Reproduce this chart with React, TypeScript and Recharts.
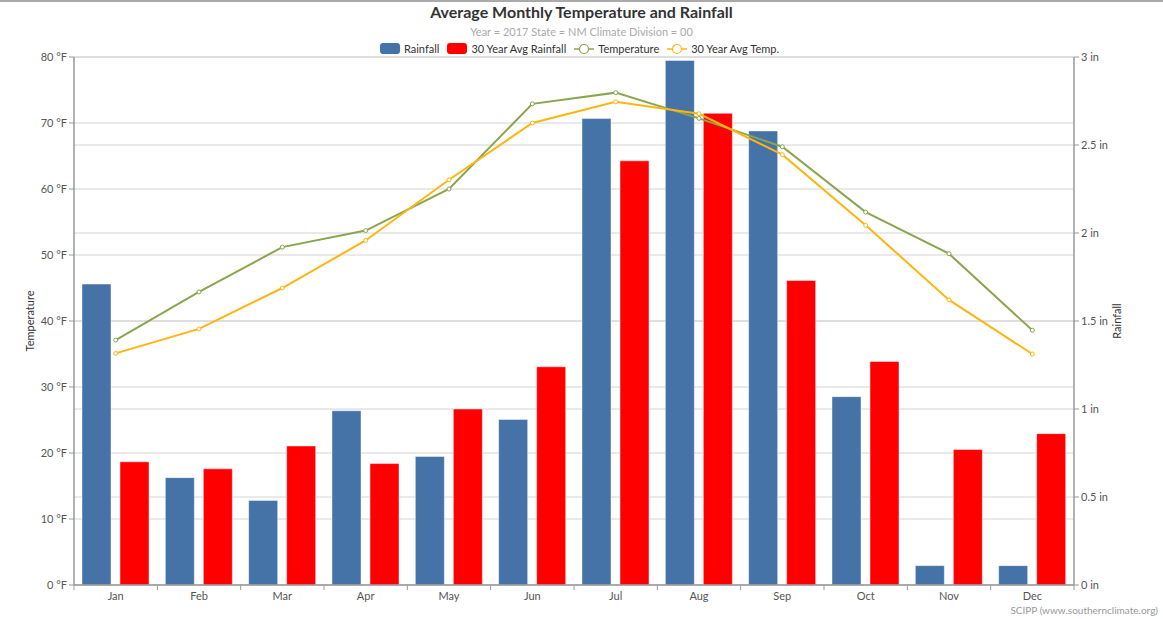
import React from "react";
import { ComposedChart, Bar, Line, XAxis, YAxis, CartesianGrid } from "recharts";

const months = ["Jan", "Feb", "Mar", "Apr", "May", "Jun", "Jul", "Aug", "Sep", "Oct", "Nov", "Dec"];
const rainfall = [1.71, 0.61, 0.48, 0.99, 0.73, 0.94, 2.65, 2.98, 2.58, 1.07, 0.11, 0.11];
const avgRainfall = [0.7, 0.66, 0.79, 0.69, 1.0, 1.24, 2.41, 2.68, 1.73, 1.27, 0.77, 0.86];
const temperature = [37.1, 44.4, 51.2, 53.7, 60.0, 72.9, 74.6, 70.7, 66.4, 56.5, 50.2, 38.6];
const avgTemperature = [35.1, 38.8, 45.0, 52.2, 61.4, 70.0, 73.2, 71.4, 65.2, 54.5, 43.2, 35.0];
const tempTicks = [0, 10, 20, 30, 40, 50, 60, 70, 80];
const rainTicks = [0, 0.5, 1, 1.5, 2, 2.5, 3];

const data = months.map((m, i) => ({
  month: m,
  rainfall: rainfall[i],
  avgRainfall: avgRainfall[i],
  temperature: temperature[i],
  avgTemperature: avgTemperature[i],
}));

const FONT = "Lato, 'Noto Sans', sans-serif";
const AXIS = "#999";
const LABEL = "#555";

const XTick = (props: any) => {
  const { x, y, payload, index } = props;
  const half = payload && payload.offset ? payload.offset : 41.33;
  return (
    <g>
      <line x1={x - half} y1={y - 8} x2={x - half} y2={y - 3} stroke={AXIS} />
      {index === months.length - 1 && (
        <line x1={x + half} y1={y - 8} x2={x + half} y2={y - 3} stroke={AXIS} />
      )}
      <text x={x} y={y + 7} textAnchor="middle" fill={LABEL} fontSize={11} fontFamily={FONT}>
        {payload.value}
      </text>
    </g>
  );
};

const LegendItem = ({ kind, color, label }: { kind: "bar" | "line"; color: string; label: string }) => (
  <div style={{ display: "flex", alignItems: "center", marginRight: 8 }}>
    {kind === "bar" ? (
      <div style={{ width: 20, height: 11, background: color, borderRadius: 3, marginRight: 4 }} />
    ) : (
      <svg width={20} height={12} style={{ marginRight: 4 }}>
        <line x1={0} y1={6} x2={20} y2={6} stroke={color} strokeWidth={1.5} />
        <circle cx={10} cy={6} r={4.5} fill="#fff" stroke={color} strokeWidth={1.2} />
      </svg>
    )}
    <span style={{ fontSize: 11, color: "#333" }}>{label}</span>
  </div>
);

export default function App() {
  return (
    <div
      style={{
        position: "absolute",
        left: 0,
        top: 0,
        width: 1163,
        height: 619,
        background: "#fff",
        fontFamily: FONT,
        overflow: "hidden",
      }}
    >
      <div style={{ position: "absolute", left: 0, top: 0, width: 1163, height: 2, background: "#aaa" }} />
      <div
        style={{
          position: "absolute",
          top: 2,
          left: 0,
          width: 1163,
          textAlign: "center",
          fontSize: 16,
          fontWeight: "bold",
          color: "#333",
        }}
      >
        Average Monthly Temperature and Rainfall
      </div>
      <div
        style={{
          position: "absolute",
          top: 25,
          left: 0,
          width: 1163,
          textAlign: "center",
          fontSize: 11,
          color: "#aaa",
        }}
      >
        Year = 2017 State = NM Climate Division = 00
      </div>
      <div
        style={{
          position: "absolute",
          top: 42,
          left: 0,
          width: 1163,
          display: "flex",
          justifyContent: "center",
          paddingLeft: 4,
          boxSizing: "border-box",
        }}
      >
        <LegendItem kind="bar" color="#4572A7" label="Rainfall" />
        <LegendItem kind="bar" color="#FF0000" label="30 Year Avg Rainfall" />
        <LegendItem kind="line" color="#89A54E" label="Temperature" />
        <LegendItem kind="line" color="#FFB50F" label="30 Year Avg Temp." />
      </div>
      <div style={{ position: "absolute", left: 0, top: 0 }}>
        <ComposedChart
          width={1163}
          height={619}
          data={data}
          margin={{ top: 57, right: 0, bottom: 0, left: 0 }}
          barCategoryGap={8}
          barGap={9}
        >
          <CartesianGrid yAxisId="left" vertical={false} stroke="#d4d4d4" />
          <CartesianGrid yAxisId="right" vertical={false} stroke="#d4d4d4" />
          <XAxis
            dataKey="month"
            height={34}
            axisLine={{ stroke: AXIS, strokeWidth: 1.5 }}
            tickLine={false}
            tick={<XTick />}
            interval={0}
          />
          <YAxis
            yAxisId="left"
            orientation="left"
            width={74}
            domain={[0, 80]}
            ticks={tempTicks}
            tickFormatter={(v: number) => `${v} °F`}
            axisLine={{ stroke: AXIS, strokeWidth: 1.5 }}
            tickLine={{ stroke: AXIS }}
            tickSize={5}
            tick={{ fill: LABEL, fontSize: 11, fontFamily: FONT }}
            label={{
              value: "Temperature",
              angle: -90,
              position: "insideLeft",
              offset: 30,
              style: { fill: "#333", fontSize: 11, fontFamily: FONT, textAnchor: "middle" },
            }}
          />
          <YAxis
            yAxisId="right"
            orientation="right"
            width={89}
            domain={[0, 3]}
            ticks={rainTicks}
            tickFormatter={(v: number) => `${v} in`}
            axisLine={{ stroke: AXIS, strokeWidth: 1.5 }}
            tickLine={{ stroke: AXIS }}
            tickSize={5}
            tick={{ fill: LABEL, fontSize: 11, fontFamily: FONT }}
            label={{
              value: "Rainfall",
              angle: -90,
              position: "insideRight",
              offset: 46,
              style: { fill: "#333", fontSize: 11, fontFamily: FONT, textAnchor: "middle" },
            }}
          />
          <Bar
            yAxisId="right"
            dataKey="rainfall"
            fill="#4572A7"
            stroke="#ffffff"
            strokeOpacity={0.45}
            isAnimationActive={false}
          />
          <Bar
            yAxisId="right"
            dataKey="avgRainfall"
            fill="#FF0000"
            stroke="#ffffff"
            strokeOpacity={0.45}
            isAnimationActive={false}
          />
          <Line
            yAxisId="left"
            dataKey="temperature"
            stroke="#89A54E"
            strokeWidth={2}
            dot={{ r: 2, fill: "#fff", stroke: "#89A54E", strokeWidth: 1 }}
            isAnimationActive={false}
          />
          <Line
            yAxisId="left"
            dataKey="avgTemperature"
            stroke="#FFB50F"
            strokeWidth={2}
            dot={{ r: 2, fill: "#fff", stroke: "#FFB50F", strokeWidth: 1 }}
            isAnimationActive={false}
          />
        </ComposedChart>
      </div>
      <div
        style={{
          position: "absolute",
          right: 5,
          top: 604,
          fontSize: 10,
          color: "#999",
        }}
      >
        SCIPP (www.southernclimate.org)
      </div>
    </div>
  );
}
